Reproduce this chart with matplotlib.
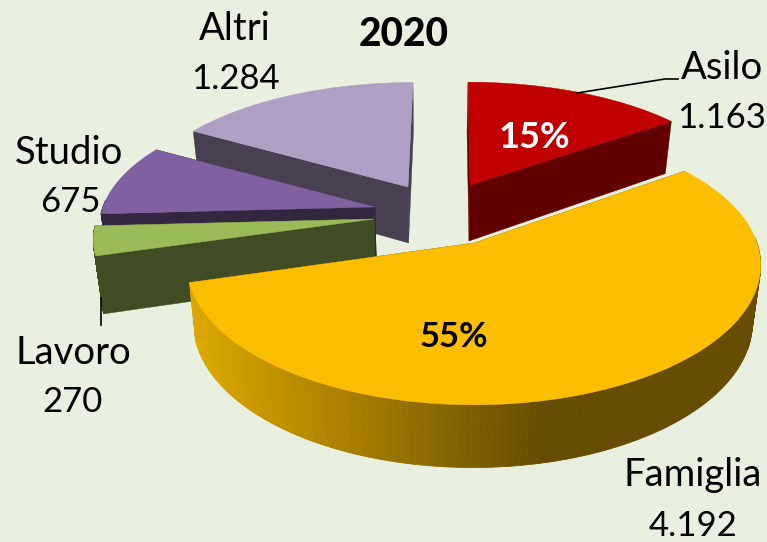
import numpy as np
import matplotlib
matplotlib.use('Agg')
import matplotlib.pyplot as plt
from matplotlib.colors import to_rgb

# chart data, clockwise from 12 o'clock
labels = ['Asilo', 'Famiglia', 'Lavoro', 'Studio', 'Altri']
values = [1163, 4192, 270, 675, 1284]
value_text = ['1.163', '4.192', '270', '675', '1.284']
percent_text = ['15%', '55%', '', '', '']

# look of each slice
top_col = ['#C00000', '#FCBE00', '#9BBB59', '#7F60A0', '#B09FC5']
side_col = ['#600000', '#664C00', '#404D24', '#33263F', '#483F50']
tips = [(470, 185), (474, 243), (374, 219), (375, 207), (408, 187)]
rad_x = [272, 283, 277, 272, 270]
rad_y = [123, 139, 130, 128, 125]
lean = [-2, 0, 0, 0, 5]
draw_order = [4, 0, 3, 2, 1]

bg = '#EAF0DF'
persp = 0.164
depth = 56
shrink = 0.975
vanish_x = 430


def rim(i, a):
    # outer edge of slice i on the pie top, for angles a (clockwise from north)
    f = 1 - persp * np.cos(a)
    x = tips[i][0] + rad_x[i] * np.sin(a) * f + lean[i] * np.cos(a)
    y = tips[i][1] - rad_y[i] * np.cos(a) * f
    return x, y


def lower(x, y, a=np.pi / 2):
    return vanish_x + (x - vanish_x) * shrink, y + depth * (1 - 0.12 * np.cos(a))


def side_color(i, x):
    # only the big slice has a shaded wall
    if i != 1:
        return side_col[i]
    t = np.clip((x - 193) / (547 - 193), 0, 1)
    a, b = np.array(to_rgb('#DDA800')), np.array(to_rgb(side_col[1]))
    return tuple(a + (b - a) * t)


edges = np.concatenate([[0], np.cumsum(values)]) / np.sum(values) * 2 * np.pi

fig = plt.figure(figsize=(7.67, 5.42), dpi=100, facecolor=bg)
ax = fig.add_axes([0, 0, 1, 1])
ax.set_xlim(0, 767)
ax.set_ylim(542, 0)
ax.axis('off')

for i in draw_order:
    a = np.linspace(edges[i], edges[i + 1], 160)
    x, y = rim(i, a)
    xl, yl = lower(x, y, a)
    tx, ty = tips[i]
    txl, tyl = lower(tx, ty)
    # the two cut faces
    for k in (0, -1):
        ax.fill([tx, x[k], xl[k], txl], [ty, y[k], yl[k], tyl], color=side_col[i], lw=0.3)
    # outer wall in small strips, front part only
    for k in range(len(a) - 1):
        if np.cos(a[k]) > 0.05:
            continue
        c = side_color(i, x[k])
        ax.fill([x[k], x[k + 1], xl[k + 1], xl[k]], [y[k], y[k + 1], yl[k + 1], yl[k]], color=c, lw=0.6)
    ax.fill(np.r_[tx, x], np.r_[ty, y], color=top_col[i], lw=0.3)

# leader lines
ax.plot([577, 665, 678], [93, 79, 79], color='black', lw=1.2, zorder=3)
ax.plot([101, 101], [298, 325], color='black', lw=1.2, zorder=3)

font = 'Lato'
label_pos = [(722, 68), (693, 475), (73, 353), (69, 153), (235, 29)]
value_pos = [(722, 118), (693, 526), (73, 402), (70, 202), (235, 79)]
for i in range(len(labels)):
    ax.text(*label_pos[i], labels[i], ha='center', va='center', fontsize=27.5, family=font, color='black')
    ax.text(*value_pos[i], value_text[i], ha='center', va='center', fontsize=25, family=font, color='black')

ax.text(534, 138, percent_text[0], ha='center', va='center', fontsize=26, family=font,
        fontweight='bold', color='white')
ax.text(454, 337, percent_text[1], ha='center', va='center', fontsize=25, family=font,
        fontweight='bold', color='black')
ax.text(404, 35, '2020', ha='center', va='center', fontsize=28, family=font,
        fontweight='black', color='black')

fig.savefig('out.png', dpi=100, facecolor=bg)
